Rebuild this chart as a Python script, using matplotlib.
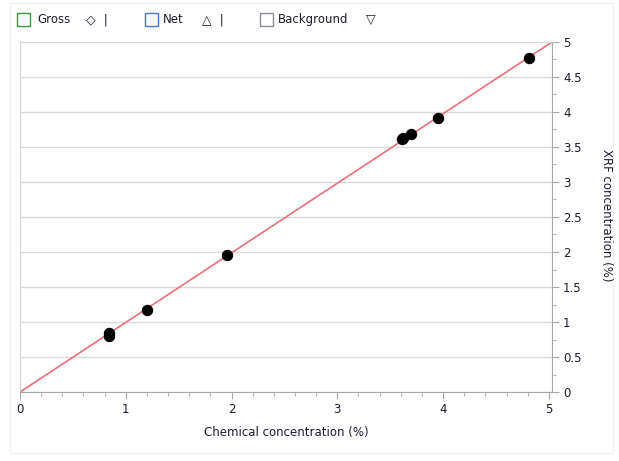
import numpy as np
import matplotlib.pyplot as plt
from matplotlib.patches import Rectangle
from matplotlib.ticker import MultipleLocator

# chemical vs XRF concentration (%)
chem = [0.84, 0.84, 1.20, 1.96, 3.61, 3.62, 3.70, 3.95, 4.81]
xrf = [0.80, 0.84, 1.17, 1.96, 3.61, 3.63, 3.68, 3.91, 4.77]
fit_x = [0.0, 5.03]
fit_y = [0.0, 5.0]
y_ticks = np.arange(0, 5.01, 0.5)

legend_items = ["Gross", "Net", "Background"]
legend_syms = ["\u25c7  |", "\u25b3  |", "\u25bd"]
legend_cols = ["#3a9a3a", "#3a78c8", "#8c8c9c"]

plt.rcParams['font.family'] = ['DejaVu Sans']
txt = "#1c1c2c"

fig = plt.figure(figsize=(6.19, 4.61), dpi=100)
W, H = 619, 461

# outer light frame
fig.patches.append(Rectangle((10 / W, 1 - 453 / H), 603 / W, 450 / H,
                             transform=fig.transFigure, fill=False,
                             ec="#f0f0f0", lw=0.8))

ax = fig.add_axes([20 / W, 1 - 392 / H, 532 / W, 350 / H])
ax.plot(fit_x, fit_y, color="#ea6f7c", lw=1.2, zorder=2)
ax.scatter(chem, xrf, s=52, color="black", zorder=3)

ax.set_xlim(0, 5.03)
ax.set_ylim(0, 5)
ax.xaxis.set_major_locator(MultipleLocator(1))
ax.xaxis.set_minor_locator(MultipleLocator(0.2))
ax.yaxis.set_minor_locator(MultipleLocator(0.25))
ax.yaxis.tick_right()
ax.set_yticks(y_ticks)
ax.set_yticklabels([f"{v:g}" for v in y_ticks])

ax.grid(axis="y", color="#d9d9d9", lw=1)
ax.set_axisbelow(True)
for s in ["left", "top"]:
    ax.spines[s].set_color("#d4d4d4")
for s in ["bottom", "right"]:
    ax.spines[s].set_color("#a8a8a8")
ax.tick_params(which="major", length=5, color="#a8a8a8", labelsize=8.5,
               labelcolor=txt, pad=3)
ax.tick_params(which="minor", length=3, color="#a8a8a8")

ax.set_xlabel("Chemical concentration (%)", fontsize=8.5, color=txt, labelpad=7)
fig.text(606 / W, 1 - 215 / H, "XRF concentration (%)", fontsize=8.5,
         color=txt, rotation=-90, ha="center", va="center")

# legend row at the top
box_x = [17, 145, 260]
text_x = [37, 163, 278]
sym_x = [86, 202, 366]
for lab, sym, col, bx, tx, sx in zip(legend_items, legend_syms, legend_cols,
                                     box_x, text_x, sym_x):
    fig.patches.append(Rectangle((bx / W, 1 - 26 / H), 13 / W, 13 / H,
                                 transform=fig.transFigure, fill=False,
                                 ec=col, lw=1))
    fig.text(tx / W, 1 - 19.5 / H, lab, fontsize=8.5, color=txt, va="center")
    fig.text(sx / W, 1 - 19.5 / H, sym, fontsize=9, color=txt, va="center")

fig.savefig("out.png", dpi=100)
